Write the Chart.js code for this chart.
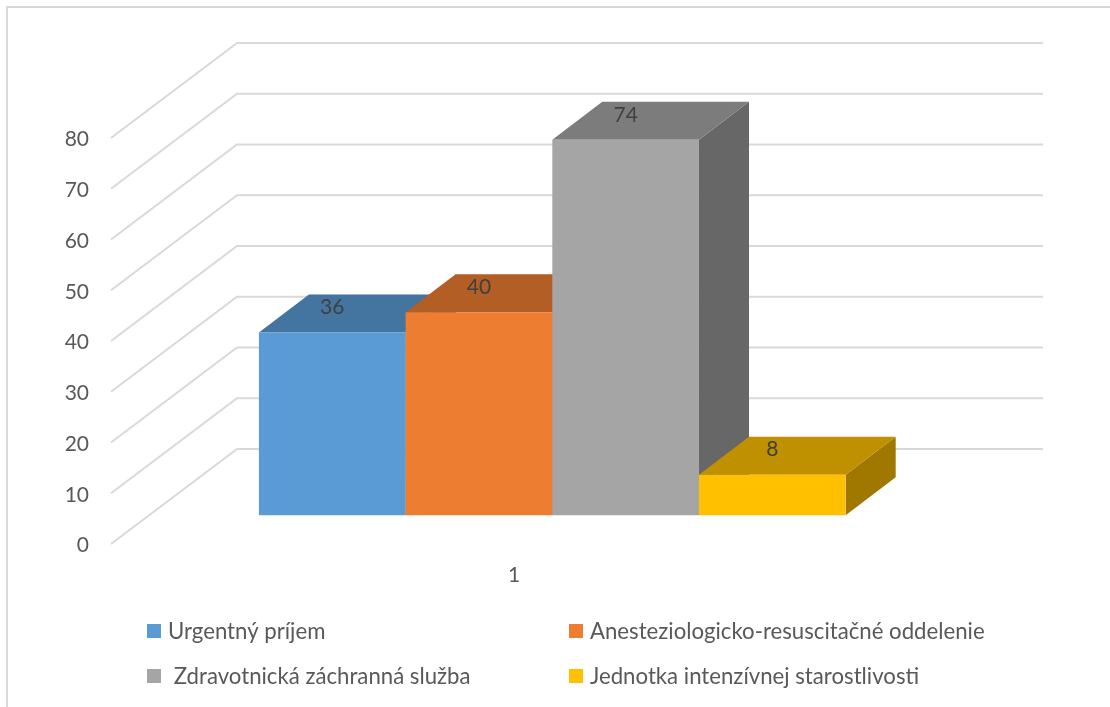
<!DOCTYPE html>
<html lang="sk">
<head>
  <meta charset="UTF-8">
  <title>Oddelenia</title>
  <script src="https://cdn.jsdelivr.net/npm/chart.js"></script>
  <style>
    html, body { margin: 0; padding: 0; background: #fff; }
    canvas { display: block; }
  </style>
</head>
<body>
  <canvas id="graf" width="1110" height="707"></canvas>

  <script>
    const categories = ['1'];
    const seriesNames = ['Urgentný príjem', 'Anesteziologicko-resuscitačné oddelenie', ' Zdravotnická záchranná služba', 'Jednotka intenzívnej starostlivosti'];
    const seriesValues = [[36], [40], [74], [8]];
    const frontColors = ['#5b9bd5', '#ed7d31', '#a5a5a5', '#ffc000'];
    const topColors = ['#4475a1', '#b25e25', '#7c7c7c', '#bf9000'];
    const sideColors = ['#395f85', '#8e4b1e', '#676767', '#a07800'];

    const FONT = 'Lato, "Open Sans", sans-serif';
    const TEXT = '#595959';
    const LINE = '#d9d9d9';

    // floor and walls of the 3D box
    const WALL_DX = 126, WALL_DY = -95;
    // bars stand a bit inside the box and have their own depth
    const BAR_DX = 38.3, BAR_DY = -28.7;
    const DEPTH_DX = 50, DEPTH_DY = -38;

    function face(ctx, color, pts) {
      ctx.fillStyle = color;
      ctx.beginPath();
      pts.forEach((p, i) => i ? ctx.lineTo(p[0], p[1]) : ctx.moveTo(p[0], p[1]));
      ctx.closePath();
      ctx.fill();
    }

    const box3d = {
      id: 'box3d',
      beforeDraw(chart) {
        const { ctx, scales: { y }, chartArea: a } = chart;
        ctx.save();
        // outer frame, only top and left are inside the page
        ctx.strokeStyle = LINE;
        ctx.lineWidth = 2;
        ctx.beginPath();
        ctx.moveTo(7, 707);
        ctx.lineTo(7, 7);
        ctx.lineTo(1110, 7);
        ctx.stroke();
        // wall lines
        y.ticks.forEach(t => {
          const py = y.getPixelForValue(t.value);
          ctx.beginPath();
          ctx.moveTo(a.left, py);
          ctx.lineTo(a.left + WALL_DX, py + WALL_DY);
          ctx.lineTo(a.right + WALL_DX, py + WALL_DY);
          ctx.stroke();
        });
        ctx.restore();
      },
      beforeDatasetsDraw(chart) {
        const { ctx } = chart;
        ctx.save();
        ctx.translate(BAR_DX, BAR_DY);
        seriesValues.forEach((vals, i) => {
          const bar = chart.getDatasetMeta(i).data[0];
          const l = bar.x - bar.width / 2, r = bar.x + bar.width / 2;
          const t = bar.y, b = bar.base;
          face(ctx, sideColors[i], [[r, t], [r + DEPTH_DX, t + DEPTH_DY], [r + DEPTH_DX, b + DEPTH_DY], [r, b]]);
          face(ctx, topColors[i], [[l, t], [l + DEPTH_DX, t + DEPTH_DY], [r + DEPTH_DX, t + DEPTH_DY], [r, t]]);
          bar.draw(ctx);
        });
        ctx.restore();
        return false;
      },
      afterDraw(chart) {
        const { ctx } = chart;
        ctx.save();
        // value labels sit on the top faces
        ctx.font = '21px ' + FONT;
        ctx.fillStyle = '#404040';
        ctx.textAlign = 'center';
        ctx.textBaseline = 'middle';
        seriesValues.forEach((vals, i) => {
          const bar = chart.getDatasetMeta(i).data[0];
          ctx.fillText(String(vals[0]), bar.x + BAR_DX, bar.y + BAR_DY - 25);
        });
        // legend, two columns
        const cols = [147, 569], rows = [624, 669], textX = [168, 590];
        ctx.font = '22.2px ' + FONT;
        ctx.textAlign = 'left';
        seriesNames.forEach((name, i) => {
          const c = i % 2, r = i >> 1;
          ctx.fillStyle = frontColors[i];
          ctx.fillRect(cols[c], rows[r], 14, 14);
          ctx.fillStyle = TEXT;
          ctx.fillText(name, textX[c], rows[r] + 7.5);
        });
        ctx.restore();
      }
    };

    new Chart(document.getElementById('graf'), {
      type: 'bar',
      data: {
        labels: categories,
        datasets: seriesNames.map((name, i) => ({
          label: name,
          data: seriesValues[i],
          backgroundColor: frontColors[i],
          borderWidth: 0
        }))
      },
      options: {
        responsive: false,
        animation: false,
        layout: { padding: { top: 138, right: 193, left: 0, bottom: 0 } },
        categoryPercentage: 0.728,
        barPercentage: 1,
        plugins: { legend: { display: false }, tooltip: { enabled: false } },
        scales: {
          x: {
            grid: { display: false, drawTicks: false },
            border: { display: false },
            ticks: { color: TEXT, font: { family: FONT, size: 21 }, padding: 19 },
            afterFit(s) { s.height = 163; }
          },
          y: {
            min: 0,
            max: 80,
            grid: { display: false, drawTicks: false },
            border: { display: false },
            ticks: { stepSize: 10, color: TEXT, font: { family: FONT, size: 21 }, padding: 22, labelOffset: 1.5 },
            afterFit(s) { s.width = 111; }
          }
        }
      },
      plugins: [box3d]
    });
  </script>
</body>
</html>
